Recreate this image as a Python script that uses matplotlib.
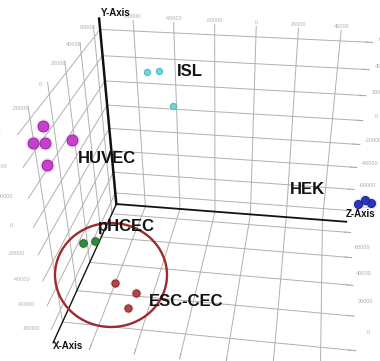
import numpy as np
import matplotlib
matplotlib.use("Agg")
import matplotlib.pyplot as plt
from matplotlib.patches import Ellipse
from matplotlib.ticker import FormatStrFormatter

W, H = 380, 361
plt.rcParams['grid.color'] = '#b0b0b0'
plt.rcParams['grid.linewidth'] = 0.7
plt.rcParams['font.family'] = ['Liberation Sans', 'DejaVu Sans']

# axis ranges and ticks
xlim = (-32000, 69000)
ylim = (-91000, 68000)
zlim = (-77000, 53000)
xticks = [-20000, 0, 20000, 40000, 60000]
yticks = [-80000, -60000, -40000, -20000, 0, 20000, 40000, 60000]
zticks = [-60000, -40000, -20000, 0, 20000, 40000]

# sample coordinates per cell type
isl_x = [45000, 45000, 45000]
isl_y = [45900, 47100, 21600]
isl_z = [-48100, -42400, -36400]

huvec_x = [-10000, -10000, -10000, -10000, -10000]
huvec_y = [47200, 35500, 36000, 39200, 20900]
huvec_z = [-77000, -82300, -77200, -65700, -77800]

hek_x = [10000, 10000, 10000]
hek_y = [-11400, -8000, -9900]
hek_z = [51400, 54100, 56800]

phcec_x = [0, 0]
phcec_y = [-48300, -45700]
phcec_z = [-70800, -65000]

esc_x = [-15000, -15000, -15000]
esc_y = [-59800, -66700, -80400]
esc_z = [-52100, -42900, -47200]

groups = [
    (isl_x, isl_y, isl_z, '#72d4dc', '#3fb0ba', 20),
    (huvec_x, huvec_y, huvec_z, '#c441cc', '#8c1e98', 62),
    (hek_x, hek_y, hek_z, '#2a36bd', '#141d7c', 34),
    (phcec_x, phcec_y, phcec_z, '#2f8c3d', '#1a5c25', 30),
    (esc_x, esc_y, esc_z, '#b34444', '#7a2323', 28),
]

fig = plt.figure(figsize=(W / 100, H / 100), dpi=100)
ax = fig.add_axes([-0.0165, -0.1203, 1.1381, 1.198], projection='3d')
ax.set_xlim(*xlim)
ax.set_ylim(*ylim)
ax.set_zlim(*zlim)
ax.view_init(elev=32.37, azim=-82.21, roll=0.06, vertical_axis='y')
ax.set_proj_type('persp', focal_length=0.300)
ax.set_box_aspect((1.461, 1.455, 1.728))

for a in (ax.xaxis, ax.yaxis, ax.zaxis):
    a.set_pane_color((1, 1, 1, 1))
    a.line.set_color((0, 0, 0, 0))
    a.set_tick_params(labelsize=4, colors='#ababab')
    a.set_major_formatter(FormatStrFormatter('%d'))
ax.set_xticks(xticks)
ax.set_yticks(yticks)
ax.set_zticks(zticks)

x0, x1 = xlim
y0, y1 = ylim
z0, z1 = zlim

# extra tick labels on the other box edges
lab = dict(fontsize=4, color='#b0b0b0', ha='center', va='center')
for z in zticks:
    ax.text(x1, y1 + 2500, z, '%d' % z, **lab)
for x in xticks:
    ax.text(x, y1 - 2000, z0 - 3000, '%d' % x, **lab)
for y in yticks:
    ax.text(x0, y, z0 - 9000, '%d' % y, **lab)

# axis lines from the back corner
ax.plot([x1, x1], [y0, y1], [z0, z0], color='#111111', lw=1.8)
ax.plot([x1, x1], [y0, y0], [z0, z1], color='#111111', lw=1.3)
ax.plot([x1, x0], [y0, y0], [z0, z0], color='#111111', lw=1.0)

for gx, gy, gz, fc, ec, s in groups:
    ax.scatter(gx, gy, gz, color=fc, s=s * 2.0, alpha=0.13, linewidths=0, depthshade=False)
    ax.scatter(gx, gy, gz, color=fc, edgecolors=ec, linewidths=0.6, s=s, depthshade=False)

# axis names
ax_lab = dict(fontsize=7, fontweight='bold', color='#111111', ha='center', va='center')
fig.text(116 / W, 1 - 13 / H, 'Y-Axis', **ax_lab)
fig.text(361 / W, 1 - 214 / H, 'Z-Axis', **ax_lab)
fig.text(68 / W, 1 - 346 / H, 'X-Axis', **ax_lab)

# group names
grp_lab = dict(fontsize=12, fontweight='bold', color='#121212', ha='center', va='center')
fig.text(190 / W, 1 - 71 / H, 'ISL', **grp_lab)
fig.text(107 / W, 1 - 158 / H, 'HUVEC', **grp_lab)
fig.text(307 / W, 1 - 190 / H, 'HEK', **grp_lab)
fig.text(126 / W, 1 - 227 / H, 'pHCEC', **grp_lab)
fig.text(186 / W, 1 - 302 / H, 'ESC-CEC', **grp_lab)

# highlight ring around the corneal endothelial groups
fig.add_artist(Ellipse((111 / W, 1 - 275 / H), 112 / W, 104 / H, transform=fig.transFigure,
                       fill=False, ec='#9e2b2b', lw=1.7))

fig.savefig('out.png', dpi=100)
